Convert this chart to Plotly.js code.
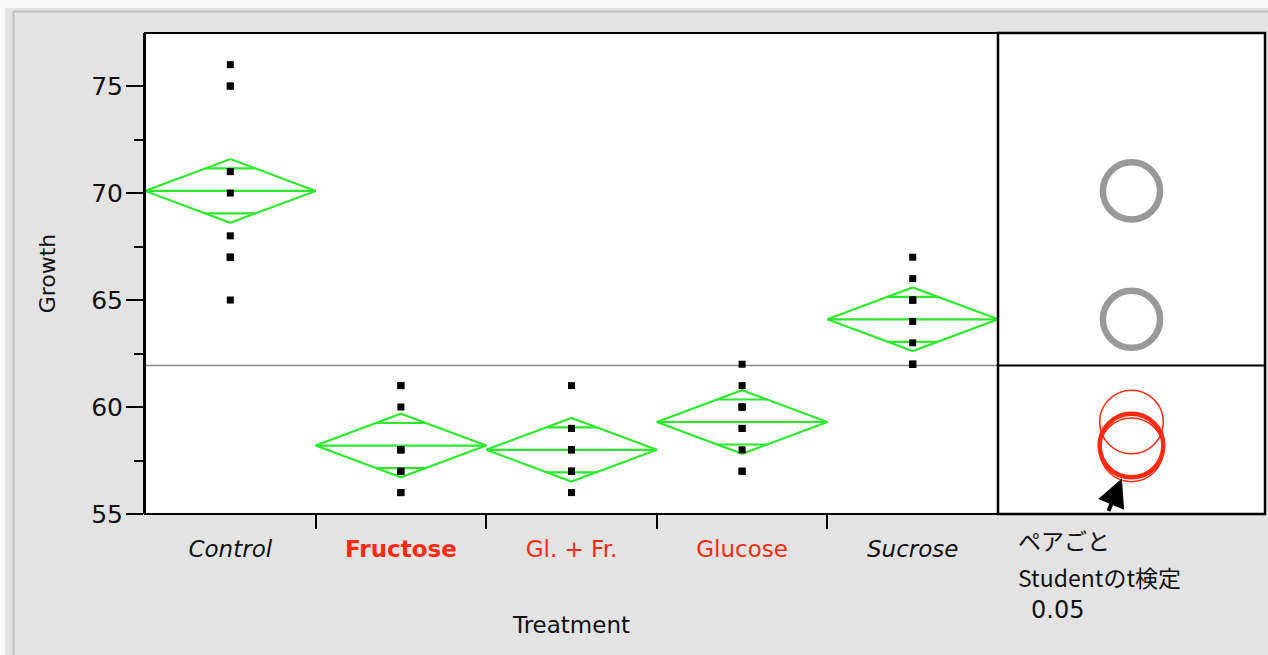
<!DOCTYPE html>
<html>
<head>
<meta charset="utf-8">
<script src="https://cdn.plot.ly/plotly-3.0.1.min.js"></script>
<style>
  html, body { margin: 0; padding: 0; background: #e3e3e3; }
  #chart { width: 1268px; height: 655px; }
</style>
</head>
<body>
<div id="chart"></div>
<script>
// Pea section growth by sugar treatment (10 sections per treatment)
const categories = ['Control', 'Fructose', 'Gl. + Fr.', 'Glucose', 'Sucrose'];
const growthControl  = [75, 67, 70, 75, 65, 71, 67, 67, 76, 68];
const growthFructose = [58, 61, 56, 58, 57, 56, 61, 60, 57, 58];
const growthGlFr     = [58, 59, 58, 61, 57, 56, 58, 57, 57, 59];
const growthGlucose  = [57, 58, 60, 59, 62, 60, 60, 57, 59, 61];
const growthSucrose  = [62, 66, 65, 63, 64, 62, 65, 65, 62, 67];
const yTickValues = [55, 60, 65, 70, 75];
const selectedGroup = 'Fructose';
const alphaLevel = 0.05;
const tCritical = 2.0141;   // Student t, two-sided 0.05, 45 error df

const groups = [growthControl, growthFructose, growthGlFr, growthGlucose, growthSucrose];

// ---- one-way ANOVA summaries ----
const mean = a => a.reduce((s, v) => s + v, 0) / a.length;
const means = groups.map(mean);
const allValues = groups.flat();
const grandMean = mean(allValues);
const sse = groups.reduce((s, g, i) => s + g.reduce((t, v) => t + (v - means[i]) ** 2, 0), 0);
const dfError = allValues.length - groups.length;
const mse = sse / dfError;
const ciHalf = groups.map(g => tCritical * Math.sqrt(mse / g.length));   // diamond half-height & circle radius
const selIdx = categories.indexOf(selectedGroup);
const isDifferent = groups.map((g, i) => {
  const lsd = tCritical * Math.sqrt(mse * (1 / g.length + 1 / groups[selIdx].length));
  return Math.abs(means[i] - means[selIdx]) > lsd;
});

// ---- styling ----
const RED = '#ff2a10';
const GREEN = '#2ee82e';
const GREY = '#999999';
const FONT = 'DejaVu Sans, Arial, sans-serif';
const JFONT = 'Noto Sans CJK JP, DejaVu Sans, sans-serif';

// pixel frame of the plotting region
const W = 1268, H = 655;
const M = { l: 145, r: 3, t: 33, b: 141 };
const PW = W - M.l - M.r, PH = H - M.t - M.b;
const splitPx = 998;
const split = (splitPx - M.l) / PW;
const px2x = p => (p - M.l) / PW;
const py2y = p => (H - M.b - p) / PH;
const yPerPx = (77.48 - 55) / PH;

const tickText = categories.map((c, i) => {
  if (i === selIdx) return `<b><span style="color:${RED}">${c}</span></b>`;
  if (!isDifferent[i]) return `<span style="color:${RED}">${c}</span>`;
  return `<i>${c}</i>`;
});

// ---- traces ----
const pts = { x: [], y: [] };
groups.forEach((g, i) => g.forEach(v => { pts.x.push(i); pts.y.push(v); }));

const dia = { x: [], y: [] };
const push = (xs, ys) => { dia.x.push(...xs, null); dia.y.push(...ys, null); };
groups.forEach((g, i) => {
  const m = means[i], h = ciHalf[i], hw = 0.5;
  push([i - hw, i, i + hw, i, i - hw], [m, m + h, m, m - h, m]);
  push([i - hw, i + hw], [m, m]);
  const o = h / Math.SQRT2, ow = hw * (1 - 1 / Math.SQRT2);
  push([i - ow, i + ow], [m + o, m + o]);
  push([i - ow, i + ow], [m - o, m - o]);
});

const traces = [
  { type: 'scatter', mode: 'lines', x: dia.x, y: dia.y, xaxis: 'x', yaxis: 'y',
    line: { color: GREEN, width: 2.2 }, hoverinfo: 'skip', connectgaps: false },
  { type: 'scatter', mode: 'markers', x: pts.x, y: pts.y, xaxis: 'x', yaxis: 'y',
    marker: { symbol: 'square', size: 7, color: '#000' }, hoverinfo: 'y' },
  // invisible anchor so the circle panel axis exists
  { type: 'scatter', mode: 'markers', x: [0], y: [grandMean], xaxis: 'x2', yaxis: 'y',
    marker: { opacity: 0 }, hoverinfo: 'skip' }
];

// ---- shapes ----
const shapes = [];
// comparison circles (grey = significantly different from the selected group)
const circleOrder = groups.map((_, i) => i).sort((a, b) => (a === selIdx) - (b === selIdx));
circleOrder.forEach(i => {
  const m = means[i];
  const sel = i === selIdx;
  const w = isDifferent[i] ? 6.5 : (sel ? 4.5 : 1.5);
  // grey rings are stroked inside the radius
  const r = isDifferent[i] ? ciHalf[i] - (w / 2) * yPerPx : ciHalf[i];
  shapes.push({
    type: 'circle', xref: 'x2', yref: 'y', x0: -r, x1: r, y0: m - r, y1: m + r,
    line: { color: isDifferent[i] ? GREY : RED, width: w },
    layer: 'above'
  });
});
// grand mean
shapes.push({ type: 'line', xref: 'x', yref: 'y', x0: -0.5, x1: categories.length - 0.5,
  y0: grandMean, y1: grandMean, line: { color: '#8a8a8a', width: 1.5 }, layer: 'below' });
shapes.push({ type: 'line', xref: 'paper', yref: 'y', x0: split, x1: 1,
  y0: grandMean, y1: grandMean, line: { color: '#000', width: 2 } });
// panel frames
shapes.push({ type: 'rect', xref: 'paper', yref: 'paper', x0: 0, x1: split, y0: 0, y1: 1,
  line: { color: '#000', width: 2 } });
shapes.push({ type: 'rect', xref: 'paper', yref: 'paper', x0: split, x1: 1, y0: 0, y1: 1,
  line: { color: '#000', width: 2.5 } });
// window edge
shapes.push({ type: 'rect', xref: 'paper', yref: 'paper', x0: px2x(0), x1: px2x(5), y0: py2y(H), y1: py2y(0),
  fillcolor: '#fafafa', line: { width: 0 } });
shapes.push({ type: 'rect', xref: 'paper', yref: 'paper', x0: px2x(0), x1: px2x(W), y0: py2y(8), y1: py2y(0),
  fillcolor: '#fafafa', line: { width: 0 } });
shapes.push({ type: 'line', xref: 'paper', yref: 'paper', x0: px2x(13), x1: px2x(W), y0: py2y(11.5), y1: py2y(11.5),
  line: { color: '#bdbdbd', width: 2 } });
shapes.push({ type: 'line', xref: 'paper', yref: 'paper', x0: px2x(13.5), x1: px2x(13.5), y0: py2y(11), y1: py2y(H),
  line: { color: '#bdbdbd', width: 2 } });

// ---- annotations ----
const annotations = [
  { xref: 'paper', yref: 'paper', x: px2x(1016), y: py2y(540), xanchor: 'left', yanchor: 'middle',
    text: 'ペアごと', showarrow: false, font: { family: JFONT, size: 23, color: '#111' } },
  { xref: 'paper', yref: 'paper', x: px2x(1016), y: py2y(577), xanchor: 'left', yanchor: 'middle',
    text: 'Studentのt検定', showarrow: false, font: { family: JFONT, size: 23, color: '#111' } },
  { xref: 'paper', yref: 'paper', x: px2x(1029), y: py2y(610), xanchor: 'left', yanchor: 'middle',
    text: alphaLevel.toFixed(2), showarrow: false, font: { family: FONT, size: 24, color: '#111' } },
  // pointer on the selected circle
  { xref: 'x2', yref: 'y', x: -0.45, y: means[selIdx] - ciHalf[selIdx] - 0.05, text: '',
    showarrow: true, arrowhead: 2, arrowsize: 1.4, arrowwidth: 4, arrowcolor: '#000',
    ax: -14, ay: 34 }
];

const layout = {
  width: W, height: H,
  margin: { l: M.l, r: M.r, t: M.t, b: M.b, pad: 0 },
  paper_bgcolor: '#e3e3e3', plot_bgcolor: '#ffffff',
  showlegend: false,
  font: { family: FONT, color: '#111' },
  xaxis: {
    domain: [0, split], anchor: 'y', range: [-0.5, categories.length - 0.5],
    tickvals: categories.map((_, i) => i), ticktext: tickText,
    ticks: 'outside', ticklen: 14, tickcolor: 'rgba(0,0,0,0)', tickwidth: 2,
    ticklabelstandoff: 0,
    tickfont: { family: FONT, size: 23, color: '#111' },
    minor: { tickvals: categories.slice(1).map((_, i) => i + 0.5), ticks: 'outside',
             ticklen: 14, tickwidth: 2, tickcolor: '#000', showgrid: false },
    showgrid: false, zeroline: false, showline: false,
    title: { text: 'Treatment', font: { family: FONT, size: 23, color: '#111' }, standoff: 56 }
  },
  xaxis2: {
    domain: [split, 1], anchor: 'y', range: [-1, 1],
    scaleanchor: 'y', scaleratio: 1,
    showticklabels: false, ticks: '', showgrid: false, zeroline: false, showline: false
  },
  yaxis: {
    domain: [0, 1], anchor: 'x', range: [55, 77.48],
    tickvals: yTickValues, ticks: 'outside', ticklen: 17, tickwidth: 2, tickcolor: '#000',
    ticklabelstandoff: -2,
    tickfont: { family: FONT, size: 25, color: '#111' },
    minor: { tickvals: yTickValues.slice(0, -1).map(v => v + 2.5), ticks: 'outside',
             ticklen: 9, tickwidth: 2, tickcolor: '#000', showgrid: false },
    showgrid: false, zeroline: false, showline: true, linewidth: 2, linecolor: '#000',
    title: { text: 'Growth', font: { family: FONT, size: 22, color: '#111' }, standoff: 29 }
  },
  shapes: shapes,
  annotations: annotations
};

Plotly.newPlot('chart', traces, layout, { staticPlot: true, displayModeBar: false });
</script>
</body>
</html>
